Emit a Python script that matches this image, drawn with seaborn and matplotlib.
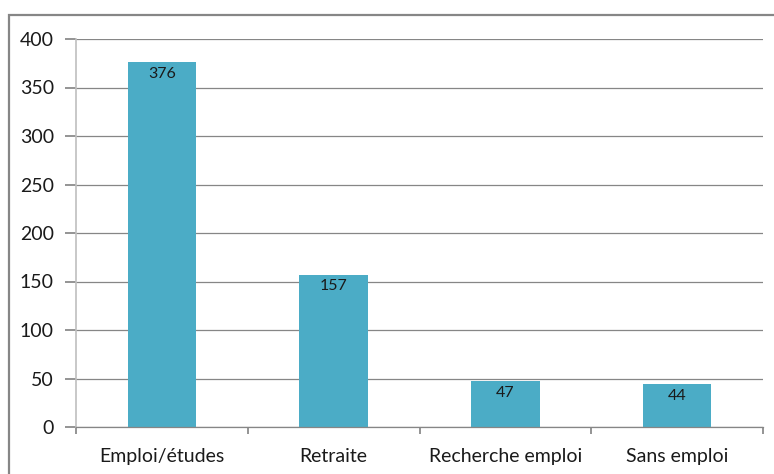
import matplotlib.pyplot as plt
import seaborn as sns
from matplotlib.patches import Rectangle

categories = ["Emploi/études", "Retraite", "Recherche emploi", "Sans emploi"]
counts = [376, 157, 47, 44]

sns.set_theme(style="white")
plt.rcParams['font.family'] = ['Lato', 'DejaVu Sans']

fig = plt.figure(figsize=(7.74, 4.74), dpi=100)
ax = fig.add_axes([76 / 774, 1 - 427 / 474, 687 / 774, 388 / 474])

sns.barplot(x=categories, y=counts, color="#4BACC6", saturation=1,
            width=0.4, linewidth=0, ax=ax)

ax.set_ylim(0, 400)
ax.set_xlim(-0.5, 3.5)
ax.set_yticks(range(0, 401, 50))
ax.yaxis.grid(True, color="#868686", linewidth=0.9)
ax.set_axisbelow(True)

for i, v in enumerate(counts):
    ax.text(i, v - 12, str(v), ha="center", va="center", fontsize=11.5, color="#1a1a1a")

# x ticks at category boundaries, labels centered
ax.set_xticks([-0.5, 0.5, 1.5, 2.5, 3.5], minor=False)
ax.set_xticklabels([])
ax.set_xticks(range(4), minor=True)
ax.set_xticklabels(categories, minor=True, fontsize=14, color="#1a1a1a")
ax.tick_params(axis="x", which="major", length=5, color="#868686", direction="out", bottom=True)
ax.tick_params(axis="x", which="minor", length=0, pad=15)
ax.tick_params(axis="y", length=8, color="#868686", labelsize=14, labelcolor="#1a1a1a", pad=8, left=True)
ax.set_xlabel("")
ax.set_ylabel("")

for s in ["top", "right"]:
    ax.spines[s].set_visible(False)
ax.spines["left"].set_color("#BFBFBF")
ax.spines["bottom"].set_color("#868686")
ax.spines["left"].set_linewidth(1.2)
ax.spines["bottom"].set_linewidth(0.9)

# outer chart frame
fig.patches.append(Rectangle((9 / 774, -0.1), 1.2, 1 - 15 / 474 + 0.1,
                             transform=fig.transFigure, fill=False,
                             edgecolor="#868686", linewidth=1.6))

fig.savefig("out.png", dpi=100)
